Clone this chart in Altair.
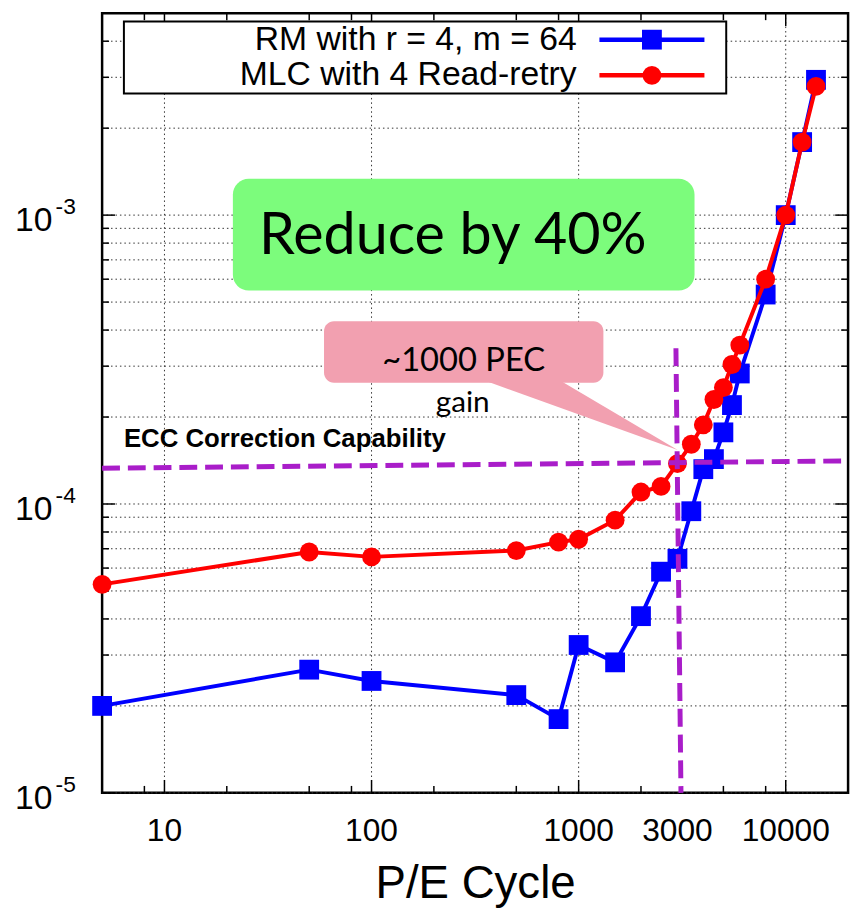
import altair as alt
import pandas as pd

# ---------------- data ----------------
pe_cycles = [5, 50, 100, 500, 800, 1000, 1500, 2000, 2500, 3000, 3500,
             4000, 4500, 5000, 5500, 6000, 8000, 10000, 12000, 14000]
rm_ber = [2.00e-5, 2.67e-5, 2.44e-5, 2.18e-5, 1.80e-5, 3.25e-5, 2.83e-5,
          4.09e-5, 5.83e-5, 6.46e-5, 9.44e-5, 1.32e-4, 1.43e-4, 1.77e-4,
          2.20e-4, 2.83e-4, 5.31e-4, 1.00e-3, 1.79e-3, 2.94e-3]
mlc_ber = [5.27e-5, 6.82e-5, 6.56e-5, 6.90e-5, 7.38e-5, 7.55e-5, 8.79e-5,
           1.10e-4, 1.15e-4, 1.38e-4, 1.61e-4, 1.88e-4, 2.30e-4, 2.53e-4,
           3.04e-4, 3.55e-4, 6.00e-4, 1.00e-3, 1.79e-3, 2.79e-3]
series_names = ["RM with r = 4, m = 64", "MLC with 4 Read-retry"]

x_tick_labels = [10, 100, 1000, 3000, 10000]
x_label_text = ["10", "100", "1000", "3000", "10000"]
x_grid = [10, 100, 1000, 10000]
x_minor = [8, 20, 50, 80, 200, 500, 800, 2000, 5000, 8000]
y_major = [1e-5, 1e-4, 1e-3]
y_base_text = ["10", "10", "10"]
y_exponents = ["-5", "-4", "-3"]
y_minor = [2e-5, 3e-5, 4e-5, 5e-5, 6e-5, 7e-5, 8e-5, 9e-5,
           2e-4, 3e-4, 4e-4, 5e-4, 6e-4, 7e-4, 8e-4, 9e-4,
           2e-3, 3e-3, 4e-3]
x_title = "P/E Cycle"

ecc_x = [5, 20000]
ecc_y = [1.33e-4, 1.41e-4]
gain_x = [2950, 3120]
gain_y = [3.46e-4, 1e-5]

# ---------------- layout ----------------
W, H = 753, 787
FONT = "Liberation Sans"
ANN_FONT = "Lato"
BLUE, RED, PURPLE = "#0000ff", "#ff0000", "#a91dc9"
GREEN, PINK = "#7cfc7c", "#f2a0b0"

xs = alt.Scale(type="log", domain=[5, 20000], nice=False)
ys = alt.Scale(type="log", domain=[1e-5, 5e-3], nice=False)

def X(f):
    return alt.X(f, scale=xs, axis=None)

def Y(f):
    return alt.Y(f, scale=ys, axis=None)

df = pd.DataFrame({
    "pe": pe_cycles * 2,
    "ber": rm_ber + mlc_ber,
    "series": [series_names[0]] * len(pe_cycles) + [series_names[1]] * len(pe_cycles),
})
one = pd.DataFrame({"a": [0]})

# grid
grid_v = alt.Chart(pd.DataFrame({"v": x_grid})).mark_rule(
    color="#333", strokeWidth=1, strokeDash=[1.5, 3]).encode(x=X("v:Q"))
grid_h = alt.Chart(pd.DataFrame({"v": y_major + y_minor})).mark_rule(
    color="#333", strokeWidth=1, strokeDash=[1.5, 3]).encode(y=Y("v:Q"))

# inward, mirrored ticks
def xticks(vals, length):
    d = alt.Chart(pd.DataFrame({"v": vals}))
    b = d.mark_rule(color="black", strokeWidth=1.5).encode(
        x=X("v:Q"), y=alt.value(H), y2=alt.value(H - length))
    t = d.mark_rule(color="black", strokeWidth=1.5).encode(
        x=X("v:Q"), y=alt.value(0), y2=alt.value(length))
    return [b, t]

def yticks(vals, length):
    d = alt.Chart(pd.DataFrame({"v": vals}))
    l = d.mark_rule(color="black", strokeWidth=1.5).encode(
        y=Y("v:Q"), x=alt.value(0), x2=alt.value(length))
    r = d.mark_rule(color="black", strokeWidth=1.5).encode(
        y=Y("v:Q"), x=alt.value(W), x2=alt.value(W - length))
    return [l, r]

ticks = xticks(x_grid, 13) + xticks(x_minor, 7) + yticks(y_major, 13) + yticks(y_minor, 7)

# tick labels and axis title
x_labels = alt.Chart(pd.DataFrame({"v": x_tick_labels, "t": x_label_text})).mark_text(
    align="center", baseline="alphabetic", fontSize=32, font=FONT, color="black").encode(
    x=X("v:Q"), y=alt.value(H + 49), text="t:N")
y_labels = alt.Chart(pd.DataFrame({"v": y_major, "t": y_base_text})).mark_text(
    align="right", baseline="alphabetic", fontSize=34, font=FONT, dy=16, color="black").encode(
    y=Y("v:Q"), x=alt.value(-50), text="t:N")
exp_txt = alt.Chart(pd.DataFrame({"v": y_major, "e": y_exponents})).mark_text(
    align="left", baseline="alphabetic", fontSize=23, font=FONT, dy=-1, color="black").encode(
    y=Y("v:Q"), x=alt.value(-47), text="e:N")
title_txt = alt.Chart(one).mark_text(
    align="center", baseline="alphabetic", fontSize=46, font=FONT, color="black").encode(
    x=alt.value(377), y=alt.value(H + 106), text=alt.value(x_title))

rm = df[df.series == series_names[0]]
mlc = df[df.series == series_names[1]]

rm_line = alt.Chart(rm).mark_line(color=BLUE, strokeWidth=4).encode(x=X("pe:Q"), y=Y("ber:Q"))
rm_pts = alt.Chart(rm).mark_point(shape="square", filled=True, size=400, color=BLUE,
                                 opacity=1).encode(x=X("pe:Q"), y=Y("ber:Q"))
mlc_line = alt.Chart(mlc).mark_line(color=RED, strokeWidth=4).encode(x=X("pe:Q"), y=Y("ber:Q"))
mlc_pts = alt.Chart(mlc).mark_point(shape="circle", filled=True, size=361, color=RED,
                                   opacity=1).encode(x=X("pe:Q"), y=Y("ber:Q"))

# purple reference lines
ecc_line = alt.Chart(pd.DataFrame({"x": ecc_x, "y": ecc_y})).mark_line(
    color=PURPLE, strokeWidth=5, strokeDash=[18, 8]).encode(x=X("x:Q"), y=Y("y:Q"))
gain_line = alt.Chart(pd.DataFrame({"x": gain_x, "y": gain_y})).mark_line(
    color=PURPLE, strokeWidth=5, strokeDash=[18, 8]).encode(x=X("x:Q"), y=Y("y:Q"))

# legend (custom: text left, sample right)
leg_box = alt.Chart(one).mark_rect(fill="white", stroke="black", strokeWidth=2).encode(
    x=alt.value(22), x2=alt.value(630), y=alt.value(8.3), y2=alt.value(81))
leg = [leg_box]
for name, col, shp, sz, yy in [(series_names[0], BLUE, "square", 400, 26.7),
                               (series_names[1], RED, "circle", 361, 62.7)]:
    leg.append(alt.Chart(one).mark_rule(color=col, strokeWidth=4.5).encode(
        x=alt.value(502), x2=alt.value(608), y=alt.value(yy)))
    leg.append(alt.Chart(one).mark_point(shape=shp, filled=True, size=sz, color=col,
                                         opacity=1).encode(
        x=alt.value(555), y=alt.value(yy)))
    leg.append(alt.Chart(one).mark_text(align="right", baseline="middle", fontSize=34,
                                        font=FONT, color="black").encode(
        x=alt.value(479), y=alt.value(yy), text=alt.value(name)))

# annotations
green_box = alt.Chart(one).mark_rect(fill=GREEN, cornerRadius=16).encode(
    x=alt.value(132), x2=alt.value(598), y=alt.value(167), y2=alt.value(280))
green_txt = alt.Chart(one).mark_text(font=ANN_FONT, fontSize=58, baseline="alphabetic",
                                     align="center", color="black").encode(
    x=alt.value(354), y=alt.value(243), text=alt.value("Reduce by 40%"))

pointer = alt.Chart(one).mark_point(shape="M0,-3L77,-3L197,68Z", size=4, filled=True,
                                    color=PINK, opacity=1, strokeWidth=0).encode(
    x=alt.value(384), y=alt.value(373))
pink_box = alt.Chart(one).mark_rect(fill=PINK, cornerRadius=10).encode(
    x=alt.value(224), x2=alt.value(506), y=alt.value(311), y2=alt.value(373))
pink_txt = alt.Chart(one).mark_text(font=ANN_FONT, fontSize=33, baseline="alphabetic",
                                    align="center", color="black").encode(
    x=alt.value(365), y=alt.value(361), text=alt.value("~1000 PEC"))
gain_txt = alt.Chart(one).mark_text(font=ANN_FONT, fontSize=30, baseline="alphabetic",
                                    align="center", color="black").encode(
    x=alt.value(364), y=alt.value(402.7), text=alt.value("gain"))
ecc_txt = alt.Chart(one).mark_text(font=FONT, fontSize=26, fontWeight="bold",
                                   baseline="alphabetic", align="left", color="black").encode(
    x=alt.value(22), y=alt.value(437.7), text=alt.value("ECC Correction Capability"))

layers = ([grid_v, grid_h] + ticks +
          [rm_line, rm_pts, mlc_line, mlc_pts, pointer, ecc_line, gain_line,
           x_labels, y_labels, exp_txt, title_txt] +
          leg + [green_box, green_txt, pink_box, pink_txt, gain_txt, ecc_txt])

chart = alt.layer(*layers).properties(
    width=W, height=H,
    autosize=alt.AutoSizeParams(type="none"),
    padding={"left": 95, "top": 1, "right": 8, "bottom": 116},
).configure(font=FONT).configure_view(stroke="black", strokeWidth=2.5)

chart.save("out.html", embed_options={"renderer": "svg", "actions": False})
